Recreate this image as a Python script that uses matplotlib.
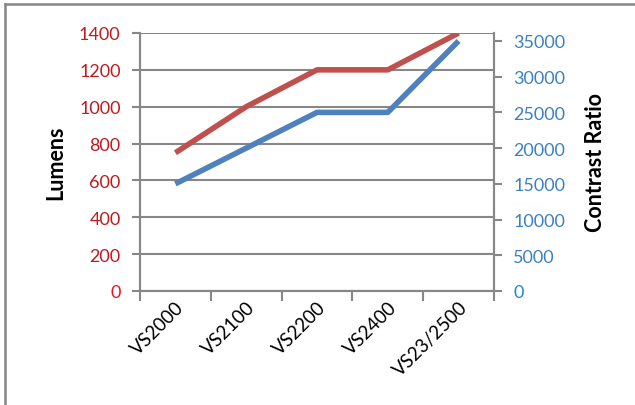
import matplotlib
matplotlib.use("Agg")
import matplotlib.pyplot as plt
from matplotlib.lines import Line2D
import numpy as np

categories = ["VS2000", "VS2100", "VS2200", "VS2400", "VS23/2500"]
lumens = [750, 1000, 1200, 1200, 1400]
contrast = [15000, 20000, 25000, 25000, 35000]
left_ticks = [0, 200, 400, 600, 800, 1000, 1200, 1400]
right_ticks = [0, 5000, 10000, 15000, 20000, 25000, 30000, 35000]

plt.rcParams['font.family'] = ['Lato', 'DejaVu Sans']

W, H = 635, 406
fig = plt.figure(figsize=(W / 100, H / 100), dpi=100)
L, R, T, B = 140, 494, 34, 292
ax = fig.add_axes([L / W, 1 - B / H, (R - L) / W, (B - T) / H])
ax2 = ax.twinx()

grey = '#878787'
red = '#C0504D'
blue = '#4F81BD'

x = np.arange(len(categories)) + 0.5
ax.plot(x, lumens, color=red, lw=4, solid_capstyle='butt', zorder=3)
ax2.plot(x, contrast, color=blue, lw=4, solid_capstyle='butt', zorder=3)

ax.set_xlim(0, len(categories))
ax.set_ylim(0, 1400)
ax2.set_ylim(0, 1400 * (36111 / 1400))

ax.set_yticks(left_ticks)
ax.set_yticklabels([str(v) for v in left_ticks])
ax2.set_yticks(right_ticks)
ax2.set_yticklabels([str(v) for v in right_ticks])

ax.set_xticks(np.arange(len(categories) + 1))
ax.set_xticklabels([])
ax.set_xticks(x, minor=True)
ax.set_xticklabels(categories, minor=True, rotation=45, ha='right',
                   rotation_mode='anchor', fontsize=13.5)
ax.tick_params(axis='x', which='minor', length=0, pad=5)
ax.tick_params(axis='x', which='major', length=7, width=1.5, color=grey)

ax.tick_params(axis='y', length=6, width=1.5, color=grey, pad=8, labelsize=13)
ax2.tick_params(axis='y', length=6, width=1.5, color=grey, pad=8, labelsize=13)
for i, lbl in enumerate(ax.get_yticklabels()):
    lbl.set_color('#E8141B' if i == 0 else '#C0191E')
for i, lbl in enumerate(ax2.get_yticklabels()):
    lbl.set_color('#2185D5' if i == 0 else '#3C80C2')

ax.grid(axis='y', color=grey, lw=1.5)
ax.set_axisbelow(True)
for a in (ax, ax2):
    for s in ('left', 'right', 'bottom'):
        a.spines[s].set_color(grey)
        a.spines[s].set_linewidth(1.5)
    a.spines['top'].set_visible(False)

ax.set_ylabel("Lumens", fontsize=15.5, fontweight='bold')
ax.yaxis.set_label_coords((66 - L) / (R - L), 0.5)
ax2.set_ylabel("Contrast Ratio", fontsize=15.5, fontweight='bold')
ax2.yaxis.set_label_coords((585 - L) / (R - L), 0.5)

fig.add_artist(Line2D([5 / W, 1], [1 - 5 / H, 1 - 5 / H], color=grey, lw=1.8,
                      transform=fig.transFigure))
fig.add_artist(Line2D([5 / W, 5 / W], [0, 1 - 5 / H], color=grey, lw=1.8,
                      transform=fig.transFigure))

fig.savefig("out.png", dpi=100)
